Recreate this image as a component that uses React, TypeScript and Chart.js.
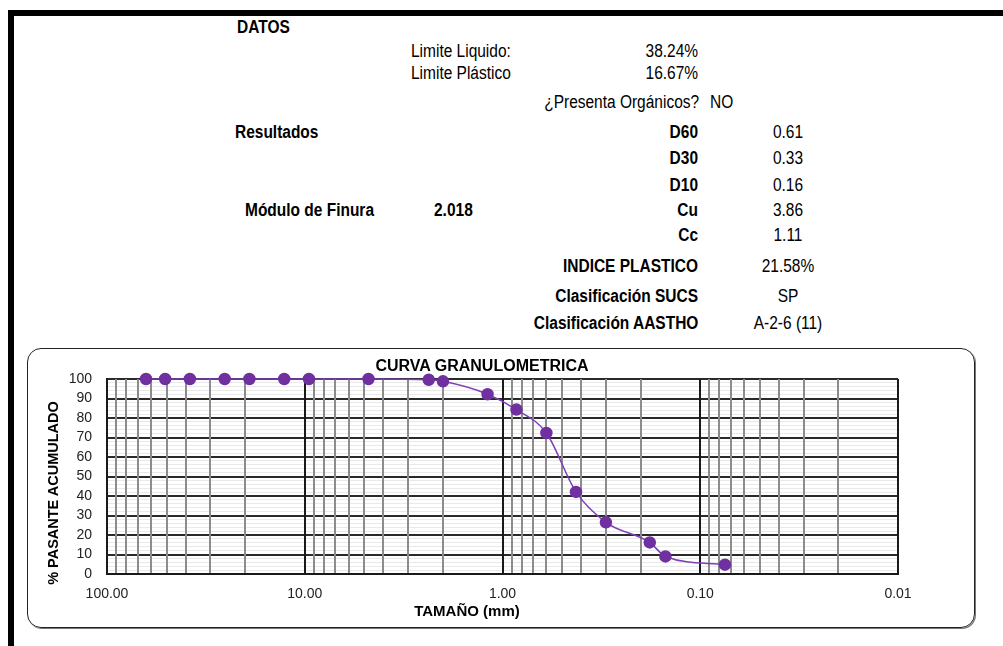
import React, { useEffect, useRef } from 'react';
import { Chart, registerables } from 'chart.js';

Chart.register(...registerables);

// Sieve opening sizes (mm) and cumulative % passing
const sieveSizes = [63.5, 50.8, 38.1, 25.4, 19.05, 12.7, 9.525, 4.76, 2.36, 2.0, 1.19, 0.85, 0.6, 0.425, 0.3, 0.18, 0.15, 0.075];
const percentPassing = [100, 100, 100, 100, 100, 100, 100, 100, 99.6, 98.8, 92.2, 84.3, 72.3, 42.1, 26.5, 16.2, 9.0, 4.8];

// Axis ticks
const xMajorTicks = [100, 10, 1, 0.1, 0.01];
const xMinorFactors = [2, 3, 4, 5, 6, 7, 8, 9];
const yLabelTicks = [0, 10, 20, 30, 40, 50, 60, 70, 80, 90, 100];
const yMinorStep = 2;

const chartTitle = 'CURVA GRANULOMETRICA';
const xAxisTitle = 'TAMAÑO (mm)';
const yAxisTitle = '% PASANTE ACUMULADO';

const SANS = "'Liberation Sans', Arial, sans-serif";

const isXMajor = (v: number) => xMajorTicks.some((m) => Math.abs(Math.log10(v) - Math.log10(m)) < 1e-6);

const xGridValues: number[] = (() => {
  const out: number[] = [];
  const decades = [...xMajorTicks].sort((a, b) => a - b);
  decades.forEach((d, i) => {
    out.push(d);
    if (i < decades.length - 1) xMinorFactors.forEach((f) => out.push(Number((d * f).toPrecision(6))));
  });
  return out;
})();

const yGridValues: number[] = (() => {
  const out: number[] = [];
  for (let v = 0; v <= 100; v += yMinorStep) out.push(v);
  return out;
})();

function GranChart() {
  const ref = useRef<HTMLCanvasElement | null>(null);
  useEffect(() => {
    if (!ref.current) return;
    const chart = new Chart(ref.current, {
      type: 'scatter',
      data: {
        datasets: [
          {
            data: sieveSizes.map((s, i) => ({ x: s, y: percentPassing[i] })),
            showLine: true,
            borderColor: '#7d3fb8',
            borderWidth: 1.5,
            backgroundColor: '#7030A0',
            pointBackgroundColor: '#7030A0',
            pointBorderColor: '#7030A0',
            pointRadius: 5.5,
            pointHoverRadius: 5.5,
            cubicInterpolationMode: 'monotone',
            clip: false,
          } as any,
        ],
      },
      options: {
        responsive: false,
        animation: false,
        events: [],
        layout: { padding: { left: 0, right: 77, top: 31, bottom: 0 } },
        plugins: { legend: { display: false }, tooltip: { enabled: false }, title: { display: false } },
        scales: {
          x: {
            type: 'logarithmic',
            reverse: true,
            min: 0.01,
            max: 100,
            afterBuildTicks: (scale: any) => {
              scale.ticks = xGridValues.map((v) => ({ value: v, major: isXMajor(v) }));
            },
            afterFit: (scale: any) => {
              scale.height = 54;
            },
            ticks: {
              autoSkip: false,
              maxRotation: 0,
              padding: 12,
              color: '#222',
              font: { family: SANS, size: 14 },
              callback: (v: any) => (isXMajor(Number(v)) ? Number(v).toFixed(2) : ''),
            },
            grid: {
              z: -1,
              drawTicks: false,
              color: (ctx: any) => (ctx.tick && isXMajor(ctx.tick.value) ? '#1a1a1a' : '#8c8c8c'),
              lineWidth: 2,
            },
            border: { display: true, color: '#1a1a1a', width: 2 },
          },
          y: {
            type: 'linear',
            min: 0,
            max: 100,
            afterBuildTicks: (scale: any) => {
              scale.ticks = yGridValues.map((v) => ({ value: v }));
            },
            afterFit: (scale: any) => {
              scale.width = 80;
            },
            ticks: {
              autoSkip: false,
              padding: 15,
              color: '#222',
              font: { family: SANS, size: 14 },
              callback: (v: any) => (yLabelTicks.includes(Number(v)) ? String(v) : ''),
            },
            grid: {
              z: -2,
              drawTicks: false,
              color: (ctx: any) => (ctx.tick && yLabelTicks.includes(ctx.tick.value) ? '#2a2a2a' : '#e9e9e9'),
              lineWidth: (ctx: any) => (ctx.tick && yLabelTicks.includes(ctx.tick.value) ? 2 : 1),
            },
            border: { display: true, color: '#1a1a1a', width: 2 },
          },
        },
      },
    });
    return () => chart.destroy();
  }, []);
  return <canvas ref={ref} width={948} height={280} style={{ position: 'absolute', left: 27, top: 348, width: 948, height: 280 }} />;
}

type TProps = { x: number; y: number; align?: 'left' | 'right' | 'center'; bold?: boolean; size?: number; squeeze?: number; children: React.ReactNode };

function T({ x, y, align = 'left', bold = false, size = 18, squeeze = 0.86, children }: TProps) {
  const origin = align === 'left' ? 'left center' : align === 'right' ? 'right center' : 'center center';
  const base: React.CSSProperties = {
    position: 'absolute',
    top: y - 12,
    height: 24,
    lineHeight: '24px',
    whiteSpace: 'nowrap',
    fontFamily: SANS,
    fontSize: size,
    fontWeight: bold ? 'bold' : 'normal',
    color: '#000',
    transform: `scaleX(${squeeze})`,
    transformOrigin: origin,
  };
  if (align === 'left') return <div style={{ ...base, left: x }}>{children}</div>;
  if (align === 'right') return <div style={{ ...base, right: 1003 - x, textAlign: 'right' }}>{children}</div>;
  return <div style={{ ...base, left: x - 150, width: 300, textAlign: 'center' }}>{children}</div>;
}

export default function App() {
  return (
    <div style={{ position: 'absolute', left: 0, top: 0, width: 1003, height: 646, overflow: 'hidden', background: '#fff' }}>
      <div style={{ position: 'absolute', left: 8, top: 10, width: 995, height: 6, background: '#000' }} />
      <div style={{ position: 'absolute', left: 8, top: 10, width: 6, height: 636, background: '#000' }} />

      <T x={237} y={27} bold>DATOS</T>
      <T x={411} y={51}>Limite Liquido:</T>
      <T x={698} y={51} align="right">38.24%</T>
      <T x={411} y={73}>Limite Plástico</T>
      <T x={698} y={73} align="right">16.67%</T>
      <T x={699} y={102} align="right">¿Presenta Orgánicos?</T>
      <T x={710} y={102}>NO</T>

      <T x={235} y={132} bold>Resultados</T>
      <T x={698} y={132} align="right" bold>D60</T>
      <T x={788} y={132} align="center">0.61</T>
      <T x={698} y={158} align="right" bold>D30</T>
      <T x={788} y={158} align="center">0.33</T>
      <T x={698} y={185} align="right" bold>D10</T>
      <T x={788} y={185} align="center">0.16</T>
      <T x={245} y={210} bold>Módulo de Finura</T>
      <T x={434} y={210} bold>2.018</T>
      <T x={698} y={210} align="right" bold>Cu</T>
      <T x={788} y={210} align="center">3.86</T>
      <T x={698} y={235} align="right" bold>Cc</T>
      <T x={788} y={235} align="center">1.11</T>
      <T x={698} y={266} align="right" bold>INDICE PLASTICO</T>
      <T x={788} y={266} align="center">21.58%</T>
      <T x={698} y={296} align="right" bold>Clasificación SUCS</T>
      <T x={788} y={296} align="center">SP</T>
      <T x={698} y={323} align="right" bold>Clasificación AASTHO</T>
      <T x={788} y={323} align="center">A-2-6 (11)</T>

      <div
        style={{
          position: 'absolute',
          left: 27,
          top: 348,
          width: 948,
          height: 280,
          boxSizing: 'border-box',
          border: '1.5px solid #222',
          borderRadius: 14,
          boxShadow: '1px 1px 0 #777',
        }}
      />
      <GranChart />
      <T x={482} y={366} align="center" bold size={16} squeeze={1}>{chartTitle}</T>
      <T x={467} y={611} align="center" bold size={15} squeeze={1}>{xAxisTitle}</T>
      <div
        style={{
          position: 'absolute',
          left: 53 - 100,
          top: 493 - 10,
          width: 200,
          height: 20,
          lineHeight: '20px',
          textAlign: 'center',
          transform: 'rotate(-90deg)',
          fontFamily: SANS,
          fontWeight: 'bold',
          fontSize: 14.5,
          whiteSpace: 'nowrap',
        }}
      >
        {yAxisTitle}
      </div>
    </div>
  );
}
